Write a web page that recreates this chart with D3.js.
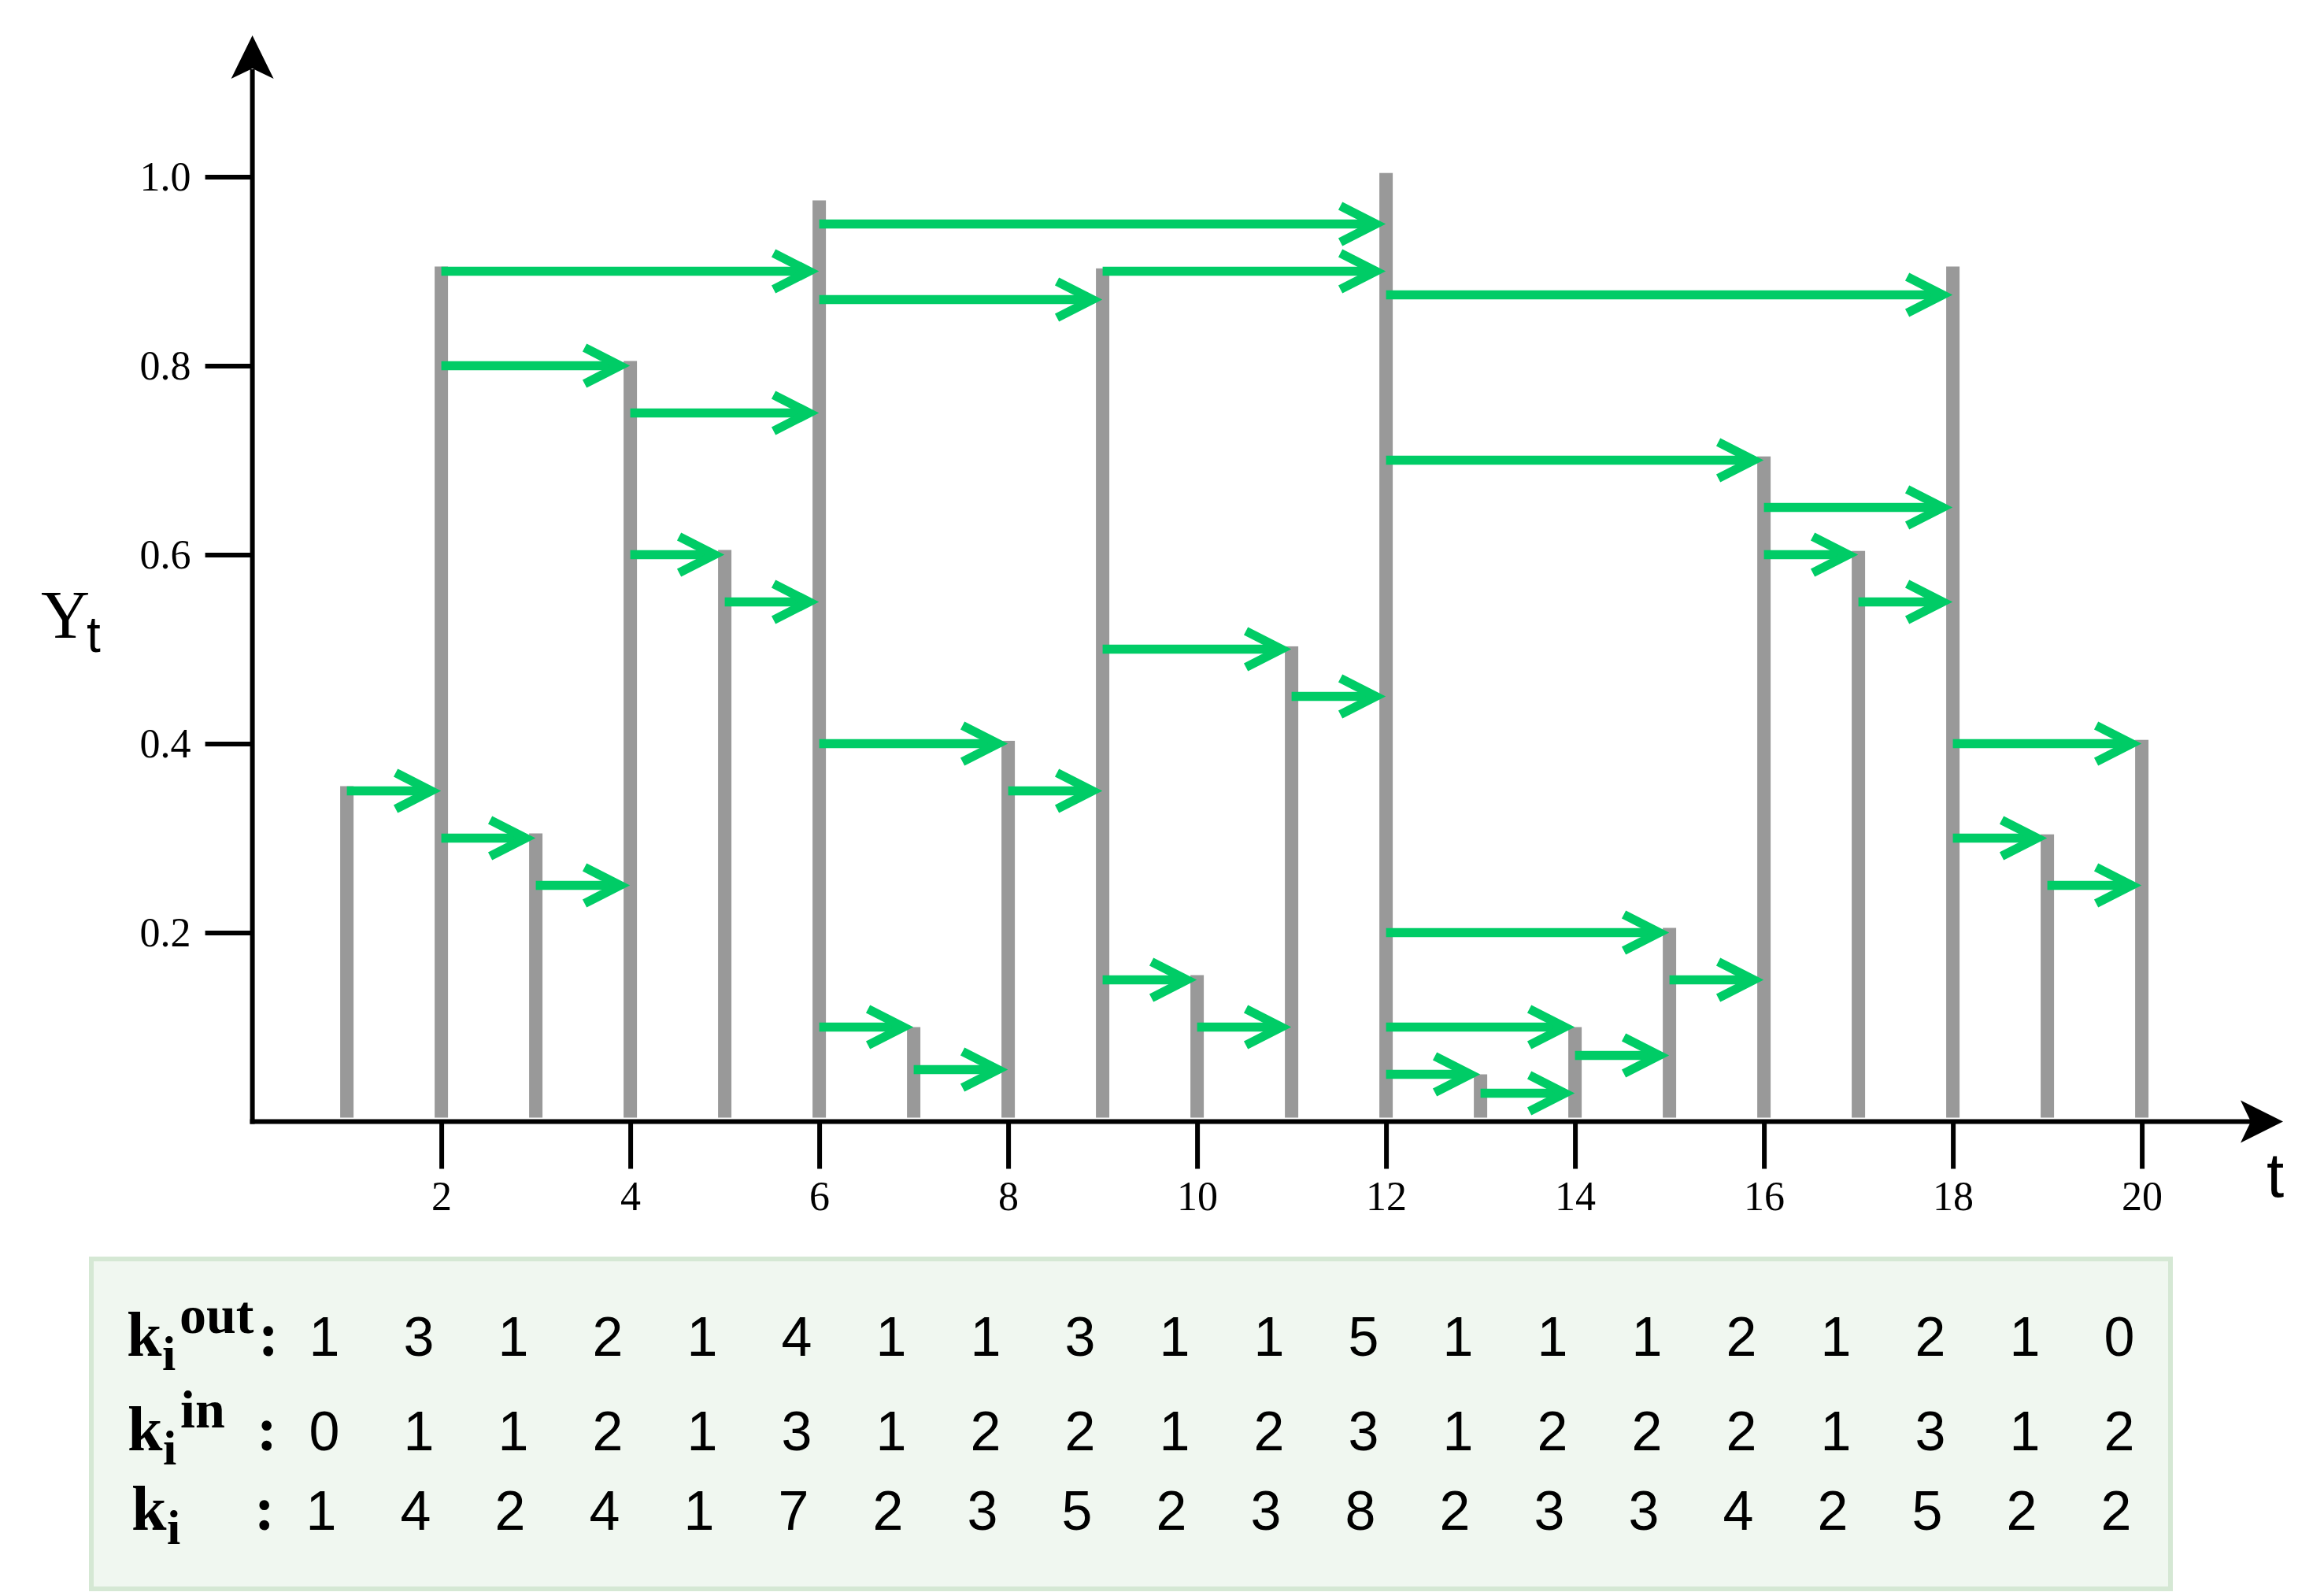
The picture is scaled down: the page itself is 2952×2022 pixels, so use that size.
<!DOCTYPE html>
<html>
<head>
<meta charset="utf-8">
<script src="https://cdn.jsdelivr.net/npm/d3@7"></script>
<style>
  body { margin: 0; background: #ffffff; }
  svg { display: block; }
</style>
</head>
<body>
<div id="chart"></div>
<script>

// time steps and the series Y_t
var times = [1, 2, 3, 4, 5, 6, 7, 8, 9, 10, 11, 12, 13, 14, 15, 16, 17, 18, 19, 20];
var values = [0.355, 0.905, 0.305, 0.805, 0.605, 0.975, 0.10, 0.403, 0.903, 0.155,
              0.503, 1.004, 0.05, 0.10, 0.205, 0.704, 0.604, 0.905, 0.304, 0.404];

// visibility links (from -> to) and the level each arrow is drawn at
var linkFrom  = [1, 2, 2, 2, 3, 4, 4, 5, 6, 6, 6, 6, 7, 8, 9, 9, 9, 10, 11,
                 12, 12, 12, 12, 12, 13, 14, 15, 16, 16, 17, 18, 18, 19];
var linkTo    = [2, 3, 4, 6, 4, 5, 6, 6, 7, 8, 9, 12, 8, 9, 10, 11, 12, 11, 12,
                 13, 14, 15, 16, 18, 14, 15, 16, 17, 18, 18, 19, 20, 20];
var linkLevel = [0.35, 0.30, 0.80, 0.90, 0.25, 0.60, 0.75, 0.55, 0.10, 0.40, 0.87, 0.95, 0.055, 0.35,
                 0.15, 0.50, 0.90, 0.10, 0.45, 0.05, 0.10, 0.20, 0.70, 0.875, 0.03, 0.07, 0.15,
                 0.60, 0.65, 0.55, 0.30, 0.40, 0.25];

// tick labels
var xTicks = [2, 4, 6, 8, 10, 12, 14, 16, 18, 20];
var yTicks = [0.2, 0.4, 0.6, 0.8, 1.0];

// degree table
var kOut = [1, 3, 1, 2, 1, 4, 1, 1, 3, 1, 1, 5, 1, 1, 1, 2, 1, 2, 1, 0];
var kIn  = [0, 1, 1, 2, 1, 3, 1, 2, 2, 1, 2, 3, 1, 2, 2, 2, 1, 3, 1, 2];
var kAll = [1, 4, 2, 4, 1, 7, 2, 3, 5, 2, 3, 8, 2, 3, 3, 4, 2, 5, 2, 2];

var width = 2952;
var height = 2022;
var barColor = '#999999';
var arrowColor = '#00cc66';
var serif = "'Liberation Serif', 'Times New Roman', serif";
var sans = "'Liberation Sans', Arial, sans-serif";

var svg = d3.select('#chart').append('svg')
    .attr('width', width)
    .attr('height', height)
    .style('background-color', '#ffffff');

var x = d3.scaleLinear().domain([0, 20]).range([320.6, 2720.6]);
var y = d3.scaleLinear().domain([0, 1]).range([1424.5, 224.5]);

/*
* BARS
*/
var barWidth = 17;
svg.append('g')
  .selectAll('rect')
  .data(times)
  .enter()
  .append('rect')
  .attr('x', (d) => { return x(d) - barWidth / 2; })
  .attr('y', (d, i) => { return y(values[i]); })
  .attr('width', barWidth)
  .attr('height', (d, i) => { return y(0) - 5 - y(values[i]); })
  .attr('fill', barColor);

/*
* ARROWS
*/
var links = linkFrom.map((f, i) => { return { from: f, to: linkTo[i], level: linkLevel[i] }; });
var tipBack = 13;   // vertex sits a bit before the bar centre, miter reaches it
var armX = 45, armY = 23;

var arrows = svg.append('g')
  .selectAll('g')
  .data(links)
  .enter()
  .append('g');

arrows.append('line')
  .attr('x1', (d) => { return x(d.from); })
  .attr('x2', (d) => { return x(d.to) - tipBack; })
  .attr('y1', (d) => { return y(d.level); })
  .attr('y2', (d) => { return y(d.level); })
  .attr('stroke', arrowColor)
  .attr('stroke-width', 11.5);

arrows.append('path')
  .attr('d', (d) => {
    var vx = x(d.to) - tipBack, vy = y(d.level);
    return 'M' + (vx - armX) + ',' + (vy - armY) + 'L' + vx + ',' + vy + 'L' + (vx - armX) + ',' + (vy + armY);
  })
  .attr('fill', 'none')
  .attr('stroke', arrowColor)
  .attr('stroke-width', 11.5)
  .attr('stroke-linejoin', 'miter');

/*
* AXES
*/
var yAxis = svg.append('g')
  .attr('transform', 'translate(' + x(0) + ',0)')
  .call(d3.axisLeft(y).tickValues(yTicks).tickSize(60).tickPadding(18).tickFormat(d3.format('.1f')));

var xAxis = svg.append('g')
  .attr('transform', 'translate(0,' + y(0) + ')')
  .call(d3.axisBottom(x).tickValues(xTicks).tickSize(60).tickPadding(16).tickFormat(d3.format('d')));

[yAxis, xAxis].forEach((ax) => {
  ax.select('.domain').remove();
  ax.selectAll('.tick line').attr('stroke', '#000').attr('stroke-width', 6);
  ax.selectAll('.tick text')
    .attr('fill', '#000')
    .style('font-family', serif)
    .style('font-size', '52px');
});

// axis lines with concave arrow heads
svg.append('line')
  .attr('x1', x(0)).attr('x2', x(0))
  .attr('y1', y(0) + 3).attr('y2', 88)
  .attr('stroke', '#000').attr('stroke-width', 6);
svg.append('path')
  .attr('d', 'M' + x(0) + ',45L' + (x(0) + 27) + ',100L' + x(0) + ',87L' + (x(0) - 27) + ',100Z')
  .attr('fill', '#000');

svg.append('line')
  .attr('x1', x(0) - 3).attr('x2', 2860)
  .attr('y1', y(0)).attr('y2', y(0))
  .attr('stroke', '#000').attr('stroke-width', 6);
svg.append('path')
  .attr('d', 'M2900,' + y(0) + 'L2846,' + (y(0) - 27) + 'L2859,' + y(0) + 'L2846,' + (y(0) + 27) + 'Z')
  .attr('fill', '#000');

// axis titles
var yTitle = svg.append('text')
  .attr('x', 52)
  .attr('y', 810)
  .attr('fill', '#000');
yTitle.append('tspan')
  .style('font-family', serif)
  .style('font-size', '86px')
  .text('Y');
yTitle.append('tspan')
  .attr('dy', 18)
  .attr('dx', -4)
  .style('font-family', sans)
  .style('font-size', '64px')
  .text('t');

svg.append('text')
  .attr('x', 2890)
  .attr('y', 1520)
  .attr('text-anchor', 'middle')
  .attr('fill', '#000')
  .style('font-family', sans)
  .style('font-size', '80px')
  .text('t');

/*
* DEGREE TABLE
*/
svg.append('rect')
  .attr('x', 116)
  .attr('y', 1599)
  .attr('width', 2641)
  .attr('height', 419)
  .attr('fill', '#f0f7f0')
  .attr('stroke', '#d5e8d4')
  .attr('stroke-width', 6);

var rows = [
  { sup: 'out', vals: kOut, base: 1722, kx: 161, colon: 341, shift: 0 },
  { sup: 'in',  vals: kIn,  base: 1842, kx: 162, colon: 339, shift: 0 },
  { sup: '',    vals: kAll, base: 1943, kx: 167, colon: 336, shift: -4 }
];
var col = d3.scaleLinear().domain([1, 20]).range([412, 2692]);

rows.forEach((r) => {
  var g = svg.append('g');

  g.append('text')
    .attr('x', r.kx)
    .attr('y', r.base)
    .attr('fill', '#000')
    .style('font-family', serif)
    .style('font-weight', 'bold')
    .style('font-size', '80px')
    .text('k');

  g.append('text')
    .attr('x', r.kx + 45)
    .attr('y', r.base + 18)
    .attr('fill', '#000')
    .style('font-family', serif)
    .style('font-weight', 'bold')
    .style('font-size', '62px')
    .text('i');

  if (r.sup) {
    g.append('text')
      .attr('x', r.kx + 67)
      .attr('y', r.base - 29)
      .attr('fill', '#000')
      .style('font-family', serif)
      .style('font-weight', 'bold')
      .style('font-size', '68px')
      .text(r.sup);
  }

  g.append('text')
    .attr('x', r.colon)
    .attr('y', r.base)
    .attr('text-anchor', 'middle')
    .attr('fill', '#000')
    .style('font-family', serif)
    .style('font-weight', 'bold')
    .style('font-size', '78px')
    .text(':');

  g.selectAll('text.val')
    .data(r.vals)
    .enter()
    .append('text')
    .attr('class', 'val')
    .attr('x', (d, i) => { return col(i + 1) + r.shift; })
    .attr('y', r.base)
    .attr('text-anchor', 'middle')
    .attr('fill', '#000')
    .style('font-family', sans)
    .style('font-size', '70px')
    .text((d) => { return d; });
});

</script>
</body>
</html>
